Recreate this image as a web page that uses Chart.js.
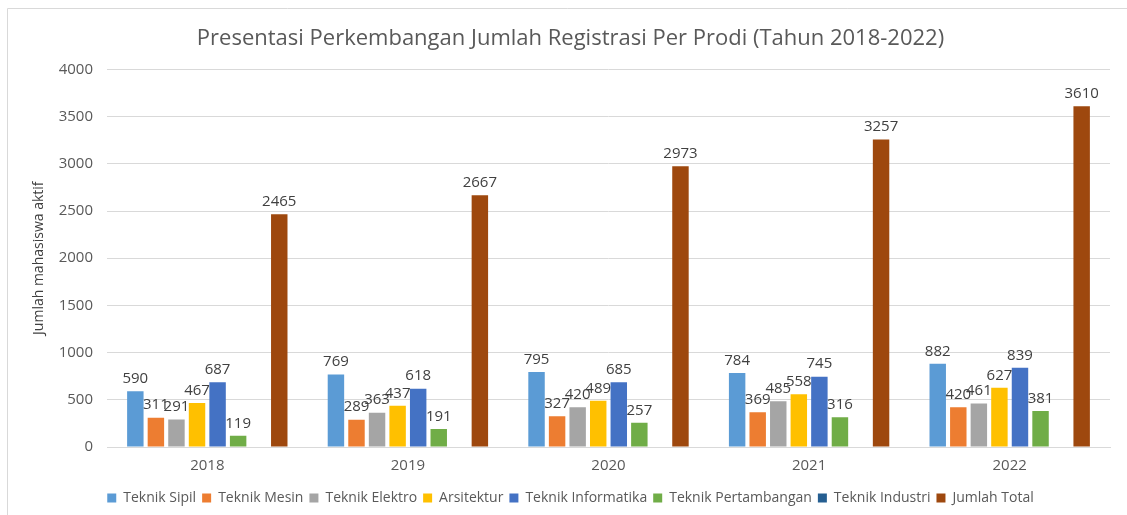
<!DOCTYPE html>
<html>
<head>
<meta charset="utf-8">
<script src="https://cdn.jsdelivr.net/npm/chart.js@4/dist/chart.umd.min.js"></script>
<style>
  html, body { margin: 0; padding: 0; background: #fff; }
  #wrap { position: relative; width: 1127px; height: 515px; }
</style>
</head>
<body>
<div id="wrap"><canvas id="chart"></canvas></div>
<script>
// years on the x axis
const years = ["2018", "2019", "2020", "2021", "2022"];

// registrations per study programme
const teknikSipil = [590, 769, 795, 784, 882];
const teknikMesin = [311, 289, 327, 369, 420];
const teknikElektro = [291, 363, 420, 485, 461];
const arsitektur = [467, 437, 489, 558, 627];
const teknikInformatika = [687, 618, 685, 745, 839];
const teknikPertambangan = [119, 191, 257, 316, 381];
const teknikIndustri = [null, null, null, null, null]; // no bars shown
const jumlahTotal = [2465, 2667, 2973, 3257, 3610];

const yTicks = [0, 500, 1000, 1500, 2000, 2500, 3000, 3500, 4000];

const font = '"Open Sans", "DejaVu Sans", sans-serif';

// numbers over each bar
const valueLabels = {
  id: "valueLabels",
  afterDatasetsDraw(chart) {
    const { ctx } = chart;
    ctx.save();
    ctx.font = "15px " + font;
    ctx.fillStyle = "#404040";
    ctx.textAlign = "center";
    ctx.textBaseline = "bottom";
    chart.data.datasets.forEach((ds, i) => {
      chart.getDatasetMeta(i).data.forEach((bar, j) => {
        const v = ds.data[j];
        if (v == null) return;
        ctx.fillText(String(v), bar.x, bar.y - 5);
      });
    });
    ctx.restore();
  },
};

// thin frame on the left and top, like the pasted chart box
const frame = {
  id: "frame",
  beforeDraw(chart) {
    const { ctx, width, height } = chart;
    ctx.save();
    ctx.strokeStyle = "#d9d9d9";
    ctx.lineWidth = 1;
    ctx.beginPath();
    ctx.moveTo(7.5, height);
    ctx.lineTo(7.5, 8.5);
    ctx.lineTo(width, 8.5);
    ctx.stroke();
    ctx.restore();
  },
};

function bars(label, data, color) {
  return {
    label,
    data,
    backgroundColor: color,
    borderWidth: 0,
    categoryPercentage: 0.82,
    barPercentage: 0.8,
  };
}

new Chart(document.getElementById("chart"), {
  type: "bar",
  data: {
    labels: years,
    datasets: [
      bars("Teknik Sipil", teknikSipil, "#5B9BD5"),
      bars("Teknik Mesin", teknikMesin, "#ED7D31"),
      bars("Teknik Elektro", teknikElektro, "#A5A5A5"),
      bars("Arsitektur", arsitektur, "#FFC000"),
      bars("Teknik Informatika", teknikInformatika, "#4472C4"),
      bars("Teknik Pertambangan", teknikPertambangan, "#70AD47"),
      bars("Teknik Industri", teknikIndustri, "#255E91"),
      bars("Jumlah Total", jumlahTotal, "#9E480E"),
    ],
  },
  options: {
    responsive: true,
    maintainAspectRatio: false,
    animation: false,
    layout: { padding: { left: 31, right: 17, top: 10, bottom: 0 } },
    plugins: {
      tooltip: { enabled: false },
      title: {
        display: true,
        text: "Presentasi Perkembangan Jumlah Registrasi Per Prodi (Tahun 2018-2022)",
        color: "#595959",
        font: { family: font, size: 22, weight: "normal" },
        padding: { top: 16, bottom: 17 },
      },
      legend: {
        position: "bottom",
        labels: {
          color: "#595959",
          font: { family: font, size: 14 },
          boxWidth: 9,
          boxHeight: 9,
          padding: 6,
        },
      },
    },
    scales: {
      x: {
        grid: { display: false, drawTicks: false },
        border: { color: "#d9d9d9" },
        ticks: { color: "#595959", font: { family: font, size: 15 }, padding: 10 },
      },
      y: {
        min: 0,
        max: 4000,
        afterBuildTicks(scale) {
          scale.ticks = yTicks.map((v) => ({ value: v }));
        },
        afterFit(scale) {
          scale.width = 76;
        },
        grid: { color: "#d9d9d9", drawTicks: false },
        border: { display: false },
        ticks: {
          color: "#595959",
          font: { family: font, size: 15 },
          padding: 14,
          callback: (v) => String(v),
        },
        title: {
          display: true,
          text: "Jumlah mahasiswa aktif",
          color: "#404040",
          font: { family: font, size: 14 },
          padding: { top: 0, bottom: 4 },
        },
      },
    },
  },
  plugins: [frame, valueLabels],
});
</script>
</body>
</html>
